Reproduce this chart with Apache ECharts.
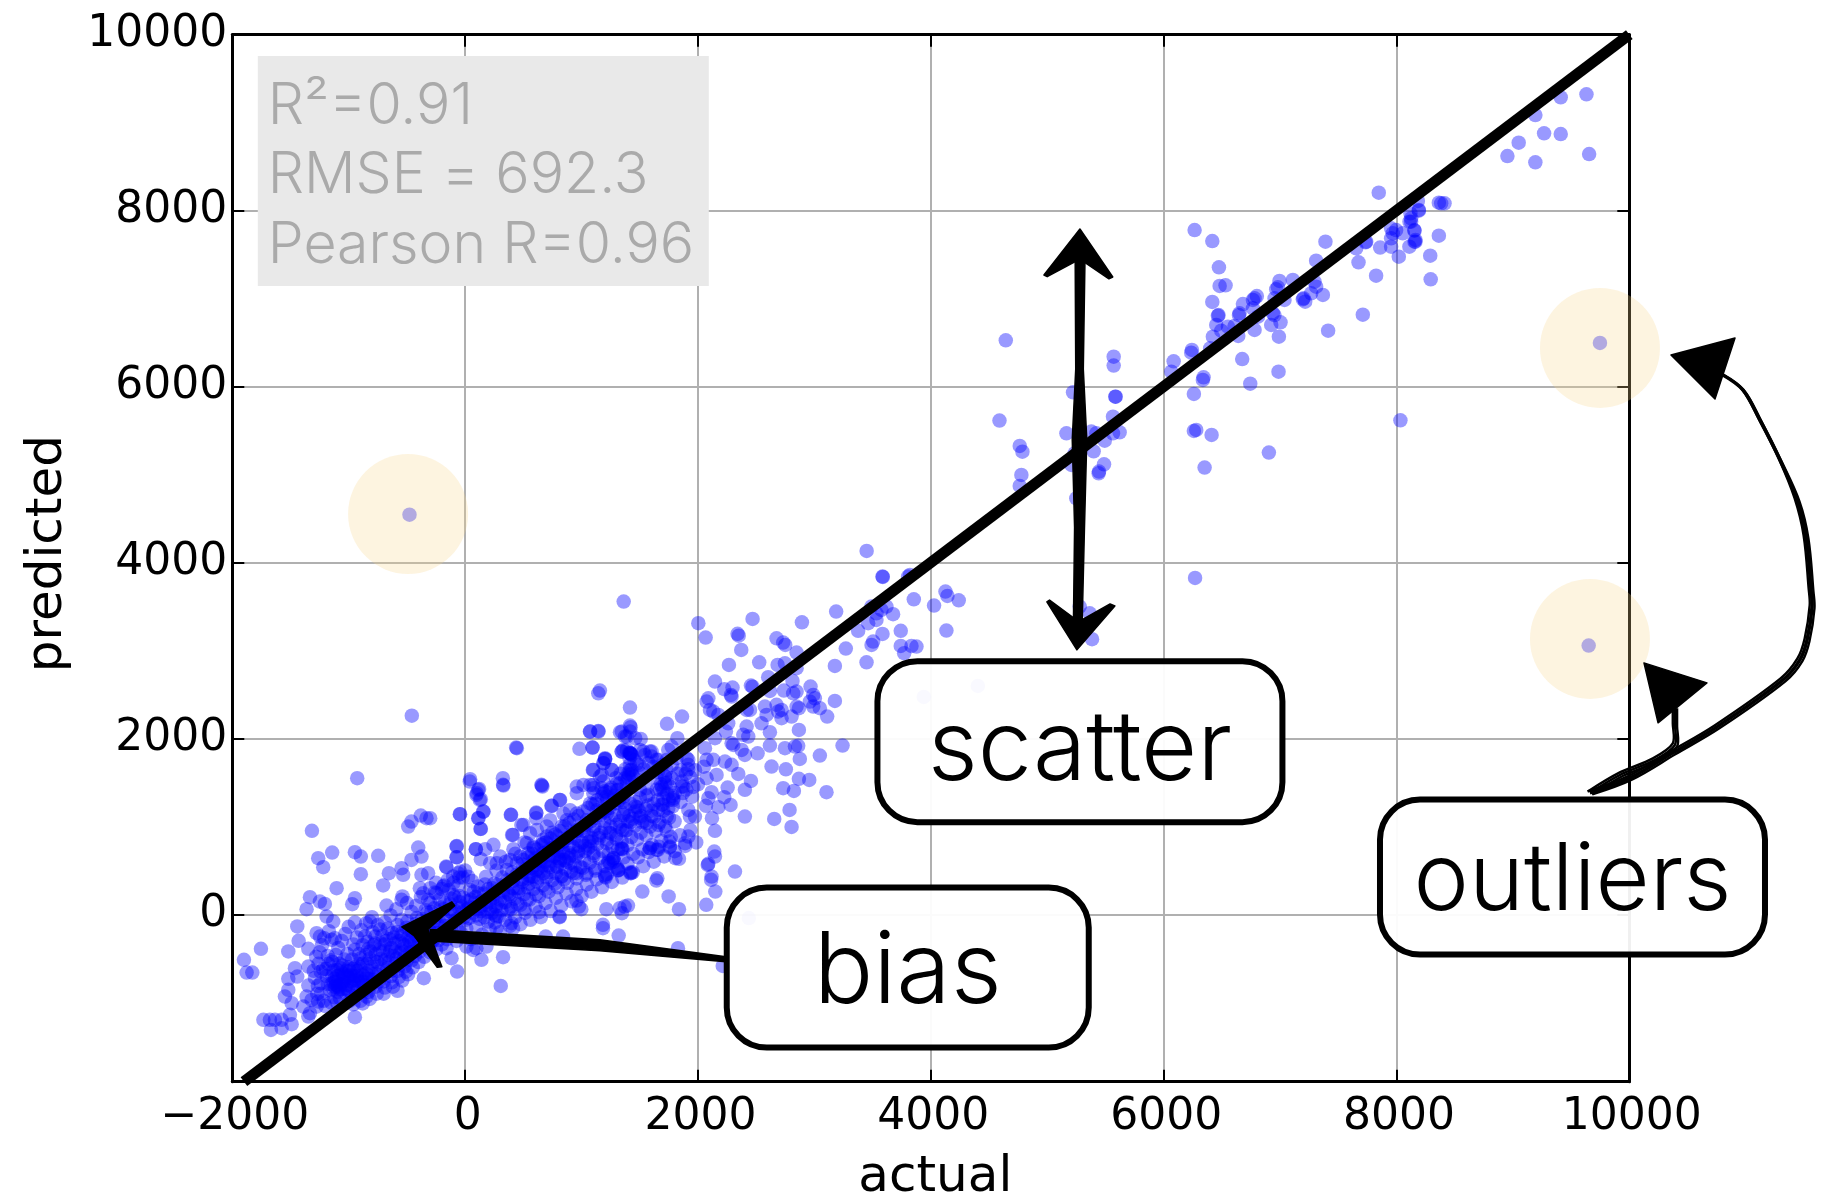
<!DOCTYPE html>
<html><head><meta charset="utf-8">
<style>html,body{margin:0;padding:0;background:#fff}#c{width:1834px;height:1196px}</style>
<script src="https://cdn.jsdelivr.net/npm/echarts@6/dist/echarts.min.js"></script>
</head><body><div id="c"></div>
<script>
const xTicks=[-2000,0,2000,4000,6000,8000,10000];
const yTicks=[0,2000,4000,6000,8000,10000];
const xRange=[-2000,10000];
const yRange=[-1900,10000];
const statLines=["R²=0.91","RMSE = 692.3","Pearson R=0.96"];
const identityLine=[[-1900,-1900],[10000,10000]];
const outlierPoints=[[-478,4545],[9748,6497],[9651,3057]];
const outlierHalos=[[-490,4553],[9748,6440],[9662,3133]];

const topRight=[[9193,9087],[9411,9288],[9632,9322],[9268,8879],[9411,8871],[9050,8773],[8953,8621],[9193,8549],[9655,8644],[7848,8205],[8184,8110],[8192,8000],[8364,8091],[8384,8083],[8413,8083],[8120,7970],[8126,7875],[8112,7875],[8155,7773],[8163,7667],[8155,7648],[8364,7716],[8034,5617],[8290,7489],[8294,7220]];
const upperBand=[[6266,7780],[6418,7655],[6475,7356],[6481,7144],[6532,7152],[6418,6962],[6466,6807],[6472,6814],[6452,6701],[6495,6636],[6423,6568],[6552,6682],[6400,6436],[6243,6417],[6237,6386],[6086,6288],[6066,6170],[6343,6106],[6337,6076],[6260,5917],[6280,5508],[6260,5496],[6412,5451],[6675,6314],[6744,6034],[6904,5250],[6352,5080],[6987,6170],[6641,6576],[6781,6644],[6609,6689],[6652,6833],[6647,6814],[6681,6939],[6767,6890],[6767,6985],[6781,7004],[6801,7030],[6810,6795],[6995,7201],[6981,7129],[6967,7106],[7110,7212],[6938,6833],[6952,6814],[7004,6731],[6924,6701],[6990,6568],[7038,6985],[6953,7004],[7196,6992],[7202,7004],[7216,6966],[7267,7060],[7310,7136],[7296,7193],[7368,7042],[7310,7432],[7390,7648],[7413,6636],[7711,6818],[7734,7640],[7740,7648],[7654,7572],[7674,7413],[7825,7261],[7860,7580],[7954,7799],[7968,7742],[7954,7686],[7954,7591],[8020,7477],[7997,7780],[8054,7742],[8111,7591],[8163,7648],[8154,7780],[8126,7913],[8192,8008]];
const midGap=[[4644,6527],[4590,5614],[4764,5326],[4787,5261],[4778,4996],[4764,4871],[5571,6341],[5571,6239],[5585,5886],[5588,5886],[5565,5659],[5222,5936],[5165,5470],[5379,5489],[5422,5470],[5622,5481],[5565,5470],[5494,5386],[5399,5265],[5488,5117],[5442,5015],[5445,5034],[5208,5110],[5236,5242],[5250,4731],[6270,3826],[5279,3500],[5365,3424],[5385,3129],[3449,4133],[3588,3837],[3821,3860],[3940,2473],[4404,2598]];
const rightSpread=[[1362,3557],[2003,3311],[2066,3148],[2469,3360],[2340,3190],[2350,3170],[2372,3008],[2675,3140],[2732,3091],[2750,3064],[2893,3322],[3187,3443],[2847,2977],[2266,2837],[2526,2867],[2684,2837],[2747,2856],[2847,2800],[3585,3841],[3805,3841],[3490,3500],[3533,3424],[3576,3462],[3619,3500],[3533,3349],[3462,3311],[3376,3224],[3676,3413],[3854,3583],[4028,3511],[4126,3671],[4143,3621],[4240,3572],[4134,3227],[3742,3224],[3585,3189],[3505,3102],[3491,3064],[3270,3023],[3742,3053],[3771,2970],[3834,3053],[3877,3045],[3176,2826],[3448,2867],[2603,2697],[2812,2655],[2146,2648],[2226,2561],[2297,2580],[2283,2496],[2289,2477],[2455,2602],[2469,2590],[2618,2541],[2738,2545],[2818,2515],[2847,2534],[2967,2591],[2990,2496],[2961,2420],[3004,2458],[3176,2428],[2074,2420],[2089,2458],[2103,2326],[2175,2269],[2575,2364],[2418,2326],[2447,2326],[2675,2383],[2718,2326],[2689,2307],[2589,2269],[2718,2231],[2804,2250],[2867,2345],[2847,2364],[2990,2364],[3047,2345],[3110,2250],[2546,2174],[2418,2136],[2260,2174],[2618,2072],[2867,2098],[2389,2042],[2432,2023],[2240,2080],[2146,2004],[2289,1947],[2303,1928],[2618,1920],[2747,1890],[2833,1909],[2861,1917],[2375,1871],[2403,1814],[2512,1833],[2875,1769],[3047,1807],[3242,1920],[2060,1890],[2132,1758],[2074,1758],[1917,1758],[2289,1701],[2232,1739],[2346,1598],[2160,1587],[2074,1549],[2632,1682],[2755,1651],[2867,1542],[2956,1530],[2455,1519],[2403,1417],[2255,1443],[2732,1436],[2824,1405],[3104,1390],[2117,1390],[2089,1322],[2069,1235],[2175,1220],[2226,1333],[2280,1246],[2787,1189],[2403,1114],[2655,1087],[2804,996],[2120,1095],[2146,951],[2140,716],[2146,659],[2089,576],[2318,489],[2117,432],[2132,2307],[1903,1777],[1917,1701]];
const centreBand=[[1416,2352],[1734,2167],[1863,2250],[1416,2148],[1330,2072],[1373,2023],[1508,1996],[1823,2004],[1745,1871],[1774,1909],[1416,1833],[1359,1871],[1531,1852],[1602,1852],[1202,1777],[1645,1758],[1860,1511],[1860,1454],[1717,1568],[1703,1417],[1788,1303],[1745,1208],[1731,1114],[1917,1189],[1931,1114],[1974,1114],[1660,1019],[1731,951],[1917,886],[1889,811],[1760,773],[1588,754],[1645,735],[1353,742],[1806,640],[1273,640],[1231,602],[1316,507],[1422,481],[1202,451],[1651,413],[1158,2545],[1144,2515],[1422,2129],[1144,2087],[1072,2080],[1095,1898],[1344,1852],[1430,1814],[1502,1871],[1588,1852],[1544,1814],[1602,1795],[1659,1758],[1201,1769],[1187,1720],[1258,1644],[1101,1644],[1401,1606],[1430,1644],[1373,1549],[1444,1568],[1502,1606],[1645,1549],[1731,1644],[1716,1568],[1716,1492],[1774,1549],[1158,1568],[1187,1511],[1101,1473],[1172,1436],[1330,1492],[1316,1417],[1387,1455],[1244,1417],[1502,1417],[1559,1436],[1573,1360],[1673,1417],[1759,1455],[1874,1455],[1101,1379],[1215,1341],[1330,1341],[1502,1322],[1702,1322],[1788,1322],[1420,1830],[1410,1840],[1425,1825],[1430,1600],[1410,1590],[1400,1560],[1680,1480],[1690,1450],[1200,1400],[1280,1350],[1350,1280],[1420,1260],[1480,1220],[1550,1200],[1620,1260],[1120,1260],[1180,1180],[1250,1100],[1300,1020],[1360,1130],[1440,1090],[1520,1050]];
const lowerBand=[[438,1898],[444,1890],[982,1883],[1094,1898],[1074,2080],[1146,2080],[43,1538],[324,1549],[329,1466],[120,1428],[100,1379],[135,1311],[659,1466],[664,1455],[-43,1140],[-300,1095],[158,1170],[115,1095],[135,974],[395,1133],[610,1159],[610,1095],[745,1235],[816,1303],[501,1019],[410,905],[-72,780],[-72,651],[92,742],[243,792],[172,742],[-163,545],[-43,489],[135,629],[415,742],[1203,1765],[1189,1720],[1097,1644],[1260,1644],[1174,1587],[1418,1833],[1389,1871],[1346,1852],[1412,1776],[1346,2080],[1389,2023],[1461,2004],[1418,2080],[959,1379],[1017,1473],[1074,1473],[1103,1436],[959,1454],[558,924],[616,962],[702,886],[731,1072],[845,1148],[874,1072],[902,1186],[702,1000],[530,811],[587,773],[473,659],[387,621],[301,659],[272,583],[215,583],[358,507],[444,583],[544,697],[673,811],[788,886],[959,962],[1045,1072],[1132,1186],[1217,1300],[1303,1413],[1389,1527],[1418,1640],[1475,1716],[1303,1489],[1189,1375],[1074,1262],[959,1148],[1217,1151],[1360,1151],[1389,962],[1303,1265],[1461,1227],[1103,962],[1074,773],[1103,697],[1217,811],[1346,754],[1275,640],[1246,583],[1318,507],[1427,470],[1203,432],[845,697],[902,583],[959,470],[1045,470],[1117,527],[816,621],[673,470],[587,432],[830,432],[788,546],[20,150],[40,280],[60,380],[75,80],[90,200],[110,320],[125,-50],[140,100],[160,240],[180,430],[195,-80],[215,60],[235,180],[250,350],[270,500],[290,-20],[310,130],[330,280],[350,600],[370,50],[390,210],[410,380],[430,690],[450,120],[470,300],[490,480],[510,820],[530,170],[550,350],[570,530],[590,760],[610,230],[630,420],[650,610],[670,850],[690,290],[710,480],[730,670],[750,930],[770,350],[790,540],[810,720],[830,1000],[850,400],[870,600],[890,790],[930,470],[950,660],[970,850],[1010,530],[1030,720],[1050,910],[1213,61],[1328,72],[1370,91],[1399,102],[1347,15],[1837,61],[1748,205],[1642,386],[1522,261],[1419,470],[1313,500],[1265,621],[1227,583],[1207,420],[956,159],[978,91],[998,61],[635,27],[512,61],[398,64],[398,-98],[412,-155],[269,-155],[269,-23],[255,-4],[69,-402],[11,-364],[97,-383],[183,-364],[2071,110],[1585,754],[1656,735],[1757,761],[1837,633],[1342,746],[2084,564],[2113,394],[2149,261],[40,1511],[112,1417],[97,1360],[126,1303],[326,1474],[655,1474],[155,1170],[112,1095],[132,973],[392,1133],[612,1152],[812,1303],[741,1235],[483,1019],[403,905],[1184,-155],[1184,-117],[1828,-383],[1319,-239],[841,-250],[692,-250],[812,-30],[812,-23],[2437,-40],[2213,-584]];
const denseBand=[[15,60],[33,-40],[48,170],[66,20],[82,130],[96,-10],[118,240],[133,40],[147,160],[166,-30],[182,110],[199,290],[214,140],[229,20],[246,230],[263,90],[281,340],[298,170],[312,50],[327,260],[344,140],[361,390],[378,230],[392,90],[409,300],[425,180],[441,450],[458,260],[474,110],[489,370],[505,230],[522,520],[538,310],[553,170],[569,430],[586,290],[601,560],[618,370],[634,210],[651,490],[667,330],[683,600],[699,420],[716,260],[731,540],[748,390],[764,660],[779,470],[796,310],[812,600],[829,440],[845,720],[861,520],[878,360],[893,640],[909,490],[926,770],[942,560],[958,410],[973,700],[991,540],[1006,820],[1022,620],[1038,450],[1055,750],[1071,590],[1087,870],[1103,670],[1118,500],[1135,800],[1151,640],[1168,930],[1183,720],[1199,550],[1216,850],[1232,690],[1248,1000],[1264,770],[1280,600],[1297,900],[1313,740],[1329,1060],[1345,830],[1362,650],[1378,950],[1394,790],[1410,1120],[1427,880],[1443,690],[1459,1010],[1475,850],[1491,1180],[1508,930],[1524,740],[1540,1060],[1556,900],[1573,1240],[1589,1000],[1605,790],[1621,1110],[1637,950],[1654,1300],[1670,1050],[1686,840],[1702,1180],[1718,1000],[1735,1370],[1751,1100],[1767,880],[1783,1230],[1799,1060],[600,640],[640,620],[680,700],[720,730],[760,760],[800,790],[840,830],[880,870],[920,920],[960,950],[1000,980],[1040,1020],[1080,1060],[1120,1100],[1160,1130],[1200,1170],[1240,1210],[1280,1260],[1320,1300],[1360,1340],[500,620],[540,650],[575,690],[615,740],[655,790],[695,820],[735,860],[775,910],[815,950],[855,1000],[895,1040],[935,1080],[975,1120],[1015,1170],[1055,1210],[1095,1250],[1135,1300],[1175,1340],[1215,1390],[1255,1440],[1295,1550],[1335,1600],[1375,1650],[1415,1700],[1455,1750],[1495,1700],[1535,1650],[1575,1720],[1615,1680],[1655,1620],[1695,1700],[1735,1760],[1775,1700],[1815,1780],[1855,1640],[1895,1600],[1935,1560],[1975,1640],[1750,1300],[1800,1380],[1850,1280],[1900,1420],[1950,1340],[2000,1480],[2050,1680],[1700,1250],[1660,1190],[1600,1120],[1560,1040],[1500,1100],[1460,1170],[1400,1060],[1350,960],[1300,860],[1250,920],[1200,980],[1150,900],[1090,830],[1030,780],[970,720],[910,670],[850,620],[790,680],[730,610],[670,560],[610,500],[550,440],[490,400]];
const bandSpread=[[-880,-350],[-860,-250],[-840,-310],[-815,-420],[-795,-200],[-775,-330],[-750,-120],[-735,-400],[-710,-240],[-690,-340],[-665,-160],[-645,-420],[-625,-210],[-605,-330],[-580,-120],[-560,-440],[-540,-240],[-520,-350],[-495,-80],[-475,-430],[-455,-190],[-435,-310],[-415,-40],[-390,-420],[-370,-240],[-350,-340],[-325,20],[-305,-190],[-285,-290],[-265,70],[-240,-210],[-220,-90],[-200,-340],[-175,130],[-155,-280],[-135,40],[-115,-190],[-90,200],[-75,-300],[-50,70],[-35,-210],[-15,190],[10,-160],[30,80],[50,-280],[75,260],[95,-140],[120,70],[145,-230],[170,340],[190,30],[210,-170],[235,300],[255,-90],[275,130],[300,-200],[320,420],[345,-60],[365,250],[385,-130],[405,480],[430,-30],[450,300],[475,-110],[495,570],[515,20],[540,410],[560,-60],[585,610],[605,90],[625,520],[650,-30],[670,700],[690,130],[715,560],[735,40],[755,760],[780,190],[800,640],[825,100],[845,830],[870,240],[890,700],[915,150],[935,870],[955,290],[980,780],[1000,210],[1020,950],[1045,340],[1065,830],[1085,260],[1110,1000],[1130,400],[1150,870],[1175,310],[1195,1060],[1220,460],[1240,930],[1260,370],[1285,1130],[1305,530],[1330,990],[1350,420],[1375,1200],[1395,580],[1420,1050],[1440,480],[1465,1280],[1485,650],[1510,1120],[1530,550],[1555,1350],[1575,710],[1600,1180],[1620,600],[1645,1420],[1665,770],[1690,1250],[1710,660],[1735,1500],[1755,830],[1780,1350],[1800,720],[1825,1600],[1845,900],[1870,1380],[1890,780],[1915,1650],[1935,960],[1960,1450],[1985,820],[-1280,-480],[-1260,-560],[-1240,-650],[-1300,-640],[-1270,-900],[-1200,-1040],[-1150,-1000],[-1240,-780],[-1180,-470],[-1140,-540],[-880,-1010],[-820,-960],[-760,-900],[-690,-830],[-630,-770],[-570,-710],[-510,-650],[-450,-600],[-400,-540],[-350,-480],[-300,-430],[-250,-400]];
const lowerLeft=[[-927,1550],[-458,2260],[-1316,951],[-489,1000],[-461,1057],[-381,1125],[-332,1095],[-46,1140],[-1262,640],[-1219,538],[-1142,705],[-947,708],[-896,659],[-747,667],[-403,761],[-375,659],[-461,621],[-74,773],[-74,652],[92,742],[-546,527],[-532,451],[-655,470],[-704,330],[-896,458],[-1104,299],[-160,538],[-375,451],[-318,470],[-60,470],[-103,432],[-1333,197],[-1248,148],[-1205,121],[-1362,61],[-947,186],[-970,117],[-538,205],[-546,167],[-675,102],[-389,299],[-360,242],[-318,167],[-189,318],[-246,242],[-1442,-136],[-1430,-299],[-1519,-420],[-1347,-390],[-1754,-390],[-1900,-515],[-1877,-659],[-1828,-659],[-1276,-212],[-1247,-250],[-1147,-288],[-1119,-269],[-1190,-23],[-1133,-80],[-947,-91],[-818,-80],[-1462,-610],[-1442,-705],[-1347,-591],[-1519,-731],[-1519,-856],[-1548,-932],[-1490,-1008],[-1347,-807],[-1362,-932],[-1319,-970],[-1262,-989],[-1733,-1197],[-1677,-1197],[-1668,-1311],[-1634,-1197],[-1576,-1197],[-1576,-1292],[-1490,-1246],[-1505,-1140],[-1390,-1046],[-1347,-1159],[-1333,-1121],[-1276,-1046],[-947,-1167],[-581,-867],[-847,-932],[-355,-724],[-69,-648],[306,-811],[326,-485],[140,-515],[-117,-496],[-160,-383]];
const denseCluster=[[-1220,-620],[-1190,-700],[-1180,-790],[-1160,-860],[-1130,-640],[-1120,-730],[-1105,-800],[-1095,-880],[-1080,-560],[-1060,-660],[-1040,-760],[-1030,-840],[-1010,-930],[-1000,-600],[-985,-690],[-970,-510],[-955,-780],[-940,-870],[-925,-640],[-910,-450],[-900,-720],[-880,-560],[-865,-800],[-850,-670],[-830,-390],[-820,-500],[-805,-600],[-790,-740],[-770,-450],[-755,-540],[-740,-650],[-725,-330],[-705,-420],[-690,-520],[-670,-610],[-650,-280],[-635,-380],[-620,-470],[-600,-560],[-585,-200],[-565,-300],[-545,-400],[-525,-490],[-505,-150],[-490,-260],[-470,-350],[-450,-420],[-430,-110],[-410,-200],[-395,-300],[-370,-50],[-350,-150],[-330,-260],[-310,-360],[-290,30],[-270,-80],[-250,-180],[-230,-290],[-210,80],[-190,-20],[-170,-130],[-150,-230],[-130,120],[-110,20],[-90,-80],[-70,-170],[-50,210],[-30,90],[-10,-30],[-1250,-430],[-1230,-350],[-1210,-270],[-1170,-190],[-1110,-460],[-1090,-380],[-1060,-300],[-1030,-220],[-1000,-140],[-960,-340],[-930,-260],[-890,-180],[-850,-100],[-800,-30],[-770,-250],[-730,-170],[-690,-90],[-640,-10],[-590,60],[-545,-60],[-500,130],[-460,30],[-420,100],[-380,200],[-340,50],[-300,130],[-260,250],[-220,170],[-180,330],[-140,280],[-100,220],[-60,330],[-20,420],[-960,-1020],[-900,-980],[-830,-880],[-770,-820],[-700,-760],[-640,-700],[-580,-640],[-520,-590],[-460,-520],[-620,-820],[-540,-750],[-490,-680],[-700,-900],[-1140,-700],[-1110,-760],[-1085,-690],[-1070,-790],[-1045,-710],[-1020,-800],[-1000,-720],[-975,-820],[-950,-740],[-925,-830],[-905,-760],[-880,-690],[-1150,-790],[-1130,-850],[-1075,-850],[-1005,-860],[-1100,-630],[-1020,-640],[-960,-620],[-900,-600],[-840,-560],[-780,-530],[-720,-500],[-660,-460],[-600,-420],[-540,-330],[-480,-300],[-420,-240],[-1290,-720],[-1265,-810],[-1240,-900],[-1215,-980],[-1195,-620],[-1175,-560],[-1150,-520],[-1125,-940],[-1100,-1000],[-1075,-950],[-1055,-580],[-1035,-510],[-1012,-450],[-992,-980],[-968,-930],[-945,-400],[-922,-560],[-898,-500],[-875,-870],[-852,-460],[-828,-730],[-808,-800],[-785,-350],[-762,-680],[-742,-760],[-718,-580],[-698,-680],[-678,-300],[-655,-540],[-632,-640],[-612,-260],[-590,-500],[-568,-580],[-548,-220],[-522,-420],[-502,-520],[-478,-180],[-455,-280],[-432,-470],[-412,-380],[-388,-120],[-365,-240],[-342,-330],[-322,-70],[-298,-200],[-278,-300],[-255,-30],[-232,-120],[-212,-230],[-188,60],[-165,-60],[-142,-170],[-118,180],[-95,50],[-72,-50],[-45,140],[-22,30],[5,-60],[-300,300],[-250,360],[-200,290],[-150,390],[-100,360],[-50,420],[0,500],[25,430],[-1120,-820],[-1090,-820],[-1060,-850],[-1050,-800],[-980,-760],[-960,-700],[-930,-700],[-1130,-770],[-1100,-700],[-1070,-610],[-1040,-680],[-1010,-700],[-990,-640],[-950,-600],[-920,-760],[-880,-760],[-850,-720],[-830,-640],[-800,-680]];
const allPoints=[].concat(topRight,upperBand,midGap,rightSpread,centreBand,lowerBand,denseBand,bandSpread,lowerLeft,denseCluster);

const callouts=[
 {text:"scatter",at:[5281,1965],w:405,h:161,size:97,dy:9},
 {text:"outliers",at:[9512,426],w:385,h:155,size:93.5,dy:5},
 {text:"bias",at:[3802,-603],w:362,h:160,size:99,dy:6}
];
const statAnchor=[-1781,9757];
const sketchPolys=[
 [[5281,7792],[5563,7246],[5530,7225],[5281,7450],[5000,7250],[4972,7269]],
 [[5255,3008],[5581,3508],[5540,3530],[5270,3330],[5020,3575],[4997,3553]],
 [[5240,7500],[5325,7500],[5310,6200],[5340,5400],[5320,4400],[5300,3300],[5225,3300],[5235,4400],[5215,5400],[5245,6200]],
 [[-544,-140],[-114,144],[-90,100],[-320,-170],[-200,-594],[-240,-600],[-440,-240]],
 [[-300,-170],[1157,-287],[2239,-480],[2239,-537],[1157,-412],[-300,-300]],
 [[10358,6360],[10908,6553],[10736,5860]],
 [[10126,2860],[10667,2633],[10247,2179]]
];
const longCurve=[[10805,6133],[10976,5963],[11122,5622],[11295,5167],[11441,4713],[11518,4292],[11561,3690],[11570,3497],[11527,3122],[11465,2894],[11320,2667],[10753,2133],[10375,1838],[10006,1553],[9662,1383]];
const shortCurve=[[10392,2361],[10392,2156],[10392,1928],[10221,1758],[9921,1588],[9662,1383]];

function toPts(api,list){return list.map(p=>api.coord(p));}
const frame='#000';
const chart=echarts.init(document.getElementById('c'),null,{renderer:'canvas'});
const tickFmt=v=>v<0?'−'+Math.abs(v):String(v);
const labelFont={fontFamily:'DejaVu Sans',fontSize:44,color:'#000'};
function mainAxis(range,ticks,name,gap,rot,labelMargin,labelPad,namePad){return {type:'value',min:range[0],max:range[1],name,nameLocation:'middle',nameGap:gap,nameRotate:rot,nameMoveOverlap:false,
  nameTextStyle:{fontFamily:'DejaVu Sans',fontSize:50,color:'#000',padding:namePad},
  axisLine:{show:true,onZero:false,lineStyle:{color:frame,width:3}},
  axisTick:{show:true,inside:true,length:12,customValues:ticks,lineStyle:{color:frame,width:2}},
  axisLabel:{show:true,customValues:ticks,formatter:tickFmt,margin:labelMargin,padding:labelPad,...labelFont},
  splitLine:{show:true,lineStyle:{color:'#b0b0b0',width:2}}};}
function mirrorAxis(range,ticks,pos){return {type:'value',min:range[0],max:range[1],position:pos,
  axisLine:{show:true,onZero:false,lineStyle:{color:frame,width:3}},
  axisTick:{show:true,inside:true,length:12,customValues:ticks,lineStyle:{color:frame,width:2}},
  axisLabel:{show:false},splitLine:{show:false}};}

chart.setOption({
 animation:false,backgroundColor:'#fff',
 grid:{left:232.3,right:204.7,top:34.7,bottom:114.3,containLabel:false,outerBoundsMode:'none'},
 xAxis:[mainAxis(xRange,xTicks,'actual',71,0,14,[0,0,0,5],[0,0,0,9]),mirrorAxis(xRange,xTicks,'top')],
 yAxis:[mainAxis(yRange,yTicks,'predicted',159,90,5,[4,0,0,0],[0,0,0,9]),mirrorAxis(yRange,yTicks,'right')],
 series:[
  {name:'points',type:'scatter',data:allPoints.concat(outlierPoints),symbolSize:14.5,clip:false,silent:true,z:2,
   itemStyle:{color:'#0000ff',opacity:0.4,borderWidth:0}},
  {name:'identity',type:'line',data:identityLine,showSymbol:false,silent:true,z:3,clip:true,
   lineStyle:{color:'#000',width:11,cap:'butt'}},
  {name:'halos',type:'scatter',data:outlierHalos,symbolSize:120,clip:false,silent:true,z:4,
   itemStyle:{color:'rgb(247,213,140)',opacity:0.27,borderWidth:0}},
  {name:'sketch',type:'custom',coordinateSystem:'cartesian2d',clip:false,silent:true,z:5,data:[[0,0]],
   renderItem(params,api){
    const ch=[];
    sketchPolys.forEach(p=>ch.push({type:'polygon',shape:{points:toPts(api,p)},style:{fill:'#000',stroke:'#000',lineWidth:1.5,lineJoin:'round'}}));
    const lp=toPts(api,longCurve), sp=toPts(api,shortCurve);
    [-2.4,0,2.4].forEach((o,i)=>{
      ch.push({type:'polyline',shape:{points:lp.map((q,k)=>{const t=k/(lp.length-1);const s=t>0.28?1:0.45;return [q[0]+o*s,q[1]+o*s*0.6];}),smooth:0.35},style:{fill:null,stroke:'#000',lineWidth:i==1?3.5:2.4}});
      ch.push({type:'polyline',shape:{points:sp.map(q=>[q[0]+o*0.9,q[1]+o*0.6]),smooth:0.3},style:{fill:null,stroke:'#000',lineWidth:2.4}});
    });
    return {type:'group',children:ch};
   }},
  {name:'callouts',type:'custom',coordinateSystem:'cartesian2d',clip:false,silent:true,z:6,data:[[0,0]],
   renderItem(params,api){
    const ch=[];
    callouts.forEach(c=>{
      const p=api.coord(c.at);
      ch.push({type:'rect',shape:{x:p[0]-c.w/2,y:p[1]-c.h/2,width:c.w,height:c.h,r:40},style:{fill:'rgba(255,255,255,0.94)',stroke:'#000',lineWidth:6}});
      ch.push({type:'text',style:{text:c.text,x:p[0],y:p[1]+c.dy,align:'center',verticalAlign:'middle',fill:'#000',font:'300 '+c.size+'px Inter'}});
    });
    return {type:'group',children:ch};
   }},
  {name:'stats',type:'custom',coordinateSystem:'cartesian2d',clip:false,silent:true,z:6,data:[[0,0]],
   renderItem(params,api){
    const p=api.coord(statAnchor);
    const ch=[{type:'rect',shape:{x:p[0],y:p[1],width:451,height:230},style:{fill:'#e9e9e9'}}];
    statLines.forEach((t,i)=>ch.push({type:'text',style:{text:t,x:p[0]+10,y:p[1]+50.5+i*69.5,align:'left',verticalAlign:'middle',fill:'#aaaaaa',font:'300 57.2px Inter'}}));
    return {type:'group',children:ch};
   }}
 ]
});
</script></body></html>
